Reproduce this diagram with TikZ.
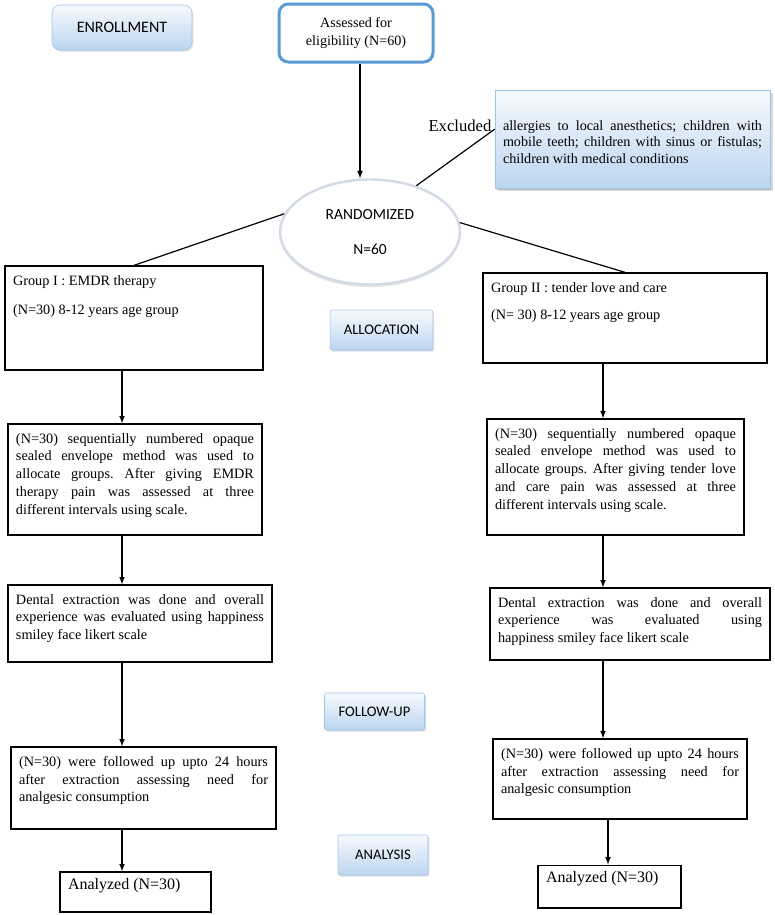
\documentclass[tikz,border=0pt]{standalone}
\usepackage{fontspec}
\setmainfont{Liberation Serif}
\newfontfamily\calibri{Carlito}
\usepackage{xcolor}
\usepackage{tikz}
\usetikzlibrary{calc}
\usetikzlibrary{shapes.geometric}
\usetikzlibrary{shadows}
\definecolor{chart-blue}{RGB}{91, 155, 213}
\definecolor{chart-edge}{RGB}{160, 195, 232}
\definecolor{chart-top}{RGB}{246, 250, 254}
\definecolor{chart-bottom}{RGB}{188, 213, 240}
\definecolor{chart-ring}{RGB}{210, 218, 230}

\newcommand{\boxtext}[3]{\parbox[c][#2][t]{#1}{\frenchspacing\hyphenpenalty=10000 #3}}

\tikzset{
  stage/.style={draw=chart-edge, top color=chart-top, bottom color=chart-bottom,
    rounded corners=1.5pt, font=\calibri\fontsize{11}{13}\selectfont,
    drop shadow={shadow xshift=1pt, shadow yshift=-1.2pt, opacity=0.25}},
  flow/.style={draw, line width=1pt, inner xsep=6pt, inner ysep=7pt,
    font=\fontsize{10.7}{13.3}\selectfont},
  link/.style={line width=0.9pt},
  arrow/.style={line width=0.9pt, -latex}
}

\begin{document}
\begin{tikzpicture}[x=0.75pt, y=-0.75pt]
          \useasboundingbox (0, 0) rectangle (775, 915);

          \coordinate (colL) at (122, 0);
          \coordinate (colM) at (360, 0);
          \coordinate (colR) at (603, 0);
          \coordinate (colR2) at (608, 0);

          \node[stage, rounded corners=6pt, minimum width=105pt, minimum height=33.75pt,
            font=\calibri\fontsize{12}{14}\selectfont] (enroll) at (122, 27.5) {ENROLLMENT};
          \node[draw=chart-blue, line width=2.25pt, rounded corners=7pt, fill=white,
            minimum width=115.5pt, minimum height=43.5pt, align=center,
            font=\fontsize{10.6}{14}\selectfont] (assess) at (356, 33) {Assessed for\\eligibility (N=60)};

          \node[ellipse, draw=chart-ring, line width=1.8pt, fill=white,
            minimum width=135pt, minimum height=78.75pt, align=center,
            font=\calibri\fontsize{11.6}{13}\selectfont,
            drop shadow={shadow xshift=0pt, shadow yshift=-2pt, opacity=0.2}] (rand) at (370, 232)
            {\raisebox{4pt}{RANDOMIZED}\\[9pt]N=60};

          \node[stage, rounded corners=0pt, inner xsep=6pt, inner ysep=5pt,
            font=\fontsize{10.6}{12.2}\selectfont,
            drop shadow={shadow xshift=2pt, shadow yshift=-2pt, opacity=0.3}] (exbox) at (632.5, 139)
            {\boxtext{194.25pt}{63.5pt}{\vspace*{18pt}allergies to local anesthetics; children with\linebreak
            mobile teeth; children with sinus or fistulas;\linebreak children with medical conditions}};
          \node[font=\fontsize{12.5}{15}\selectfont] (excl) at (460, 126) {Excluded};

          \node[flow] (grp1) at (134, 318)
            {\boxtext{181.5pt}{64pt}{Group I : EMDR therapy\\[9pt](N=30) 8-12 years age group}};
          \node[flow] (grp2) at (625, 318)
            {\boxtext{201pt}{53.5pt}{Group II : tender love and care\\[7pt](N= 30) 8-12 years age group}};
          \node[stage, minimum width=77pt, minimum height=30pt]
            (alloc) at (381.5, 330) {ALLOCATION};

          \node[flow] (rec1) at (135, 479.5)
            {\boxtext{178.5pt}{69.25pt}{(N=30) sequentially numbered opaque\linebreak
            sealed envelope method was used to\linebreak allocate groups. After giving EMDR\linebreak
            therapy pain was assessed at three\linebreak different intervals using scale.}};
          \node[flow] (rec2) at (615.5, 477)
            {\boxtext{180.75pt}{73pt}{(N=30) sequentially numbered opaque\linebreak
            sealed envelope method was used to\linebreak allocate groups. After giving tender love\linebreak
            and care pain was assessed at three\linebreak different intervals using scale.}};

          \node[flow] (ext1) at (140, 623.5)
            {\boxtext{186pt}{43.75pt}{Dental extraction was done and overall\linebreak
            experience was evaluated using happiness\linebreak smiley face likert scale}};
          \node[flow] (ext2) at (630, 624)
            {\boxtext{198pt}{40pt}{Dental extraction was done and overall\linebreak
            experience was evaluated using\linebreak happiness smiley face likert scale}};

          \node[stage, minimum width=75pt, minimum height=27.75pt]
            (follow) at (374.5, 711.5) {FOLLOW-UP};

          \node[flow] (fol1) at (143.5, 788)
            {\boxtext{186.75pt}{47.5pt}{(N=30) were followed up upto 24 hours\linebreak
            after extraction assessing need for\linebreak analgesic consumption}};
          \node[flow] (fol2) at (620, 779)
            {\boxtext{178.5pt}{46pt}{(N=30) were followed up upto 24 hours\linebreak
            after extraction assessing need for\linebreak analgesic consumption}};

          \node[stage, minimum width=67.5pt, minimum height=30pt]
            (analysis) at (383, 855) {ANALYSIS};

          \node[flow, inner ysep=5pt, font=\fontsize{12}{14}\selectfont] (an1) at (135.5, 892)
            {\boxtext{101.25pt}{20pt}{Analyzed (N=30)}};
          \node[flow, inner ysep=5pt, font=\fontsize{12}{14}\selectfont] (an2) at (609.5, 886.5)
            {\boxtext{95.25pt}{22pt}{Analyzed (N=30)}};

          \draw[arrow] (assess.south -| colM) -- (rand.north -| colM);
          \draw[link] (rand.45) -- ($(exbox.north west)!0.4!(exbox.south west)$);
          \draw[link] (rand.168) -- (grp1.north);
          \draw[link] (rand.6) -- (grp2.north);

          \draw[arrow] (grp1.south -| colL) -- (rec1.north -| colL);
          \draw[arrow] (rec1.south -| colL) -- (ext1.north -| colL);
          \draw[arrow] (ext1.south -| colL) -- (fol1.north -| colL);
          \draw[arrow] (fol1.south -| colL) -- (an1.north -| colL);

          \draw[arrow] (grp2.south -| colR) -- (rec2.north -| colR);
          \draw[arrow] (rec2.south -| colR) -- (ext2.north -| colR);
          \draw[arrow] (ext2.south -| colR) -- (fol2.north -| colR);
          \draw[arrow] (fol2.south -| colR2) -- (an2.north -| colR2);
        \end{tikzpicture}
\end{document}
